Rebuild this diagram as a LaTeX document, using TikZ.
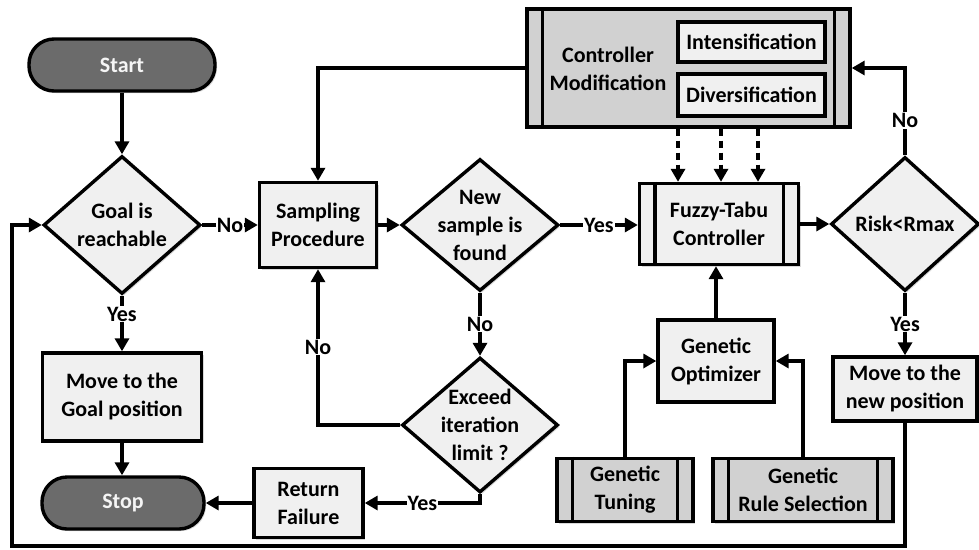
\documentclass[tikz,border=0pt]{standalone}
\usepackage{fontspec}
\setmainfont{Carlito}
\usetikzlibrary{shapes.geometric,arrows.meta,shadows}
\newcommand\ppbars[1]{\draw ([xshift=17pt]#1.north west) -- ([xshift=17pt]#1.south west) ([xshift=-17pt]#1.north east) -- ([xshift=-17pt]#1.south east);}
\begin{document}
\begin{tikzpicture}[x=1pt,y=-1pt,line width=3.4pt,
  >={Triangle[length=13pt,width=14pt]},
  txt/.style={font=\fontsize{22}{28}\selectfont\bfseries,align=center},
  shad/.style={drop shadow={shadow xshift=2pt,shadow yshift=-2pt,fill=black!25,opacity=0.6}},
  box/.style={draw,fill=black!6,txt,inner sep=0pt,shad},
  ppbox/.style={box},
  ppgrey/.style={box,fill=black!18},
  term/.style={draw,fill=black!58,txt,text=black!4,rounded corners=25pt,inner sep=0pt,shad},
  dia/.style={draw,diamond,fill=black!6,inner sep=0pt,shad},
  dtext/.style={txt},
  lbl/.style={fill=white,inner sep=1pt,txt},
  dsh/.style={dash pattern=on 7pt off 5pt}]
\useasboundingbox (0,0) rectangle (979,549);

% nodes
\node[term,minimum width=186pt,minimum height=52pt] (start) at (122,65) {Start};
\node[dia,minimum width=157pt,minimum height=138pt,label={[dtext]center:Goal is\\reachable}] (goal) at (122,225) {};
\node[box,minimum width=117pt,minimum height=85pt] (samp) at (318,225) {Sampling\\Procedure};
\node[dia,minimum width=157pt,minimum height=132pt,label={[dtext]center:New\\sample is\\found}] (newd) at (480,225) {};
\node[ppbox,minimum width=159pt,minimum height=81pt] (fuzzy) at (719,224) {Fuzzy-Tabu\\Controller};
\ppbars{fuzzy}
\node[dia,minimum width=148pt,minimum height=134pt,label={[dtext]center:Risk<Rmax}] (risk) at (905,224) {};

\node[ppgrey,minimum width=323pt,minimum height=118pt] (ctrl) at (688.5,68) {};
\ppbars{ctrl}
\node[txt] (ctrltxt) at (608,69) {Controller\\Modification};
\node[box,minimum width=147pt,minimum height=40pt,drop shadow={opacity=0}] (intens) at (751.5,42) {Intensification};
\node[box,minimum width=147pt,minimum height=42pt,drop shadow={opacity=0}] (divers) at (751.5,95) {Diversification};

\node[box,minimum width=116pt,minimum height=82pt] (gopt) at (716,361) {Genetic\\Optimizer};
\node[ppgrey,minimum width=136pt,minimum height=63pt] (gtun) at (625,490) {Genetic\\Tuning};
\ppbars{gtun}
\node[ppgrey,minimum width=180pt,minimum height=63pt] (grule) at (803,490) {Genetic\\Rule Selection};
\ppbars{grule}
\node[box,minimum width=144pt,minimum height=64pt] (mnew) at (905,389) {Move to the\\new position};

\node[box,minimum width=159pt,minimum height=88pt] (mgoal) at (122,397) {Move to the\\Goal position};
\node[term,minimum width=162pt,minimum height=52pt] (stop) at (123,503) {Stop};
\node[box,minimum width=109pt,minimum height=69pt] (retf) at (308.5,503) {Return\\Failure};
\node[dia,minimum width=156pt,minimum height=135pt,label={[dtext]center:Exceed\\iteration\\limit ?}] (exceed) at (480,425) {};

\coordinate (lb) at (12,546);

% connectors
\draw[->] (start) -- (goal);
\draw[->] (goal) -- node[lbl]{No} (samp);
\draw[->] (samp) -- (newd);
\draw[->] (newd) -- node[lbl]{Yes} (fuzzy.west |- newd.east);
\draw[->] (fuzzy.east) -- (risk.west);
\draw[->] (risk.north) |- node[lbl,pos=0.2]{No} (ctrl.east);
\draw[->] (ctrl.west) -| (samp.north);
\foreach \dx in {-10.5,32.5,69.5}
  \draw[->,dsh] ([xshift=\dx pt]ctrl.south) -- ([xshift=\dx pt]ctrl.south |- fuzzy.north);
\draw[->] (gopt.north) -- (gopt.north |- fuzzy.south);
\draw[->] (gtun.north) |- (gopt.west);
\draw[->] (grule.north) |- (gopt.east);
\draw[->] (risk.south) -- node[lbl]{Yes} (mnew.north);
\draw[->] (mnew.south) |- (lb) |- (goal.west);
\draw[->] (goal.south) -- node[lbl,pos=0.33]{Yes} (mgoal.north);
\draw[->] (mgoal.south) -- (mgoal.south |- stop.north);
\draw[->] (retf) -- (stop);
\draw[->] (exceed.south) |- node[lbl,pos=0.75]{Yes} (retf.east);
\draw[->] (exceed.west) -| node[lbl,pos=0.75]{No} (samp.south);
\draw[->] (newd.south) -- node[lbl]{No} (exceed.north);
\end{tikzpicture}
\end{document}
